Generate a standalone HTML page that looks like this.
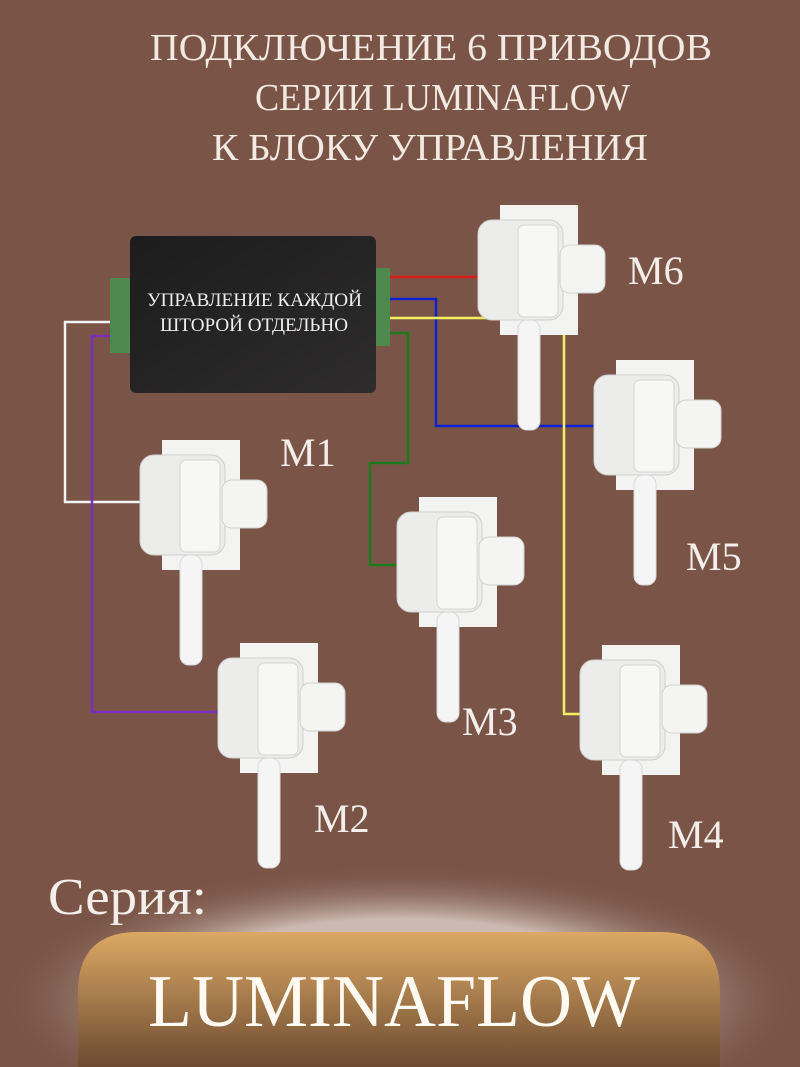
<!DOCTYPE html>
<html><head><meta charset="utf-8"><style>
html,body{margin:0;background:#7a5547;overflow:hidden;width:800px;height:1067px;}
</style></head><body>
<svg width="800" height="1067" viewBox="0 0 800 1067" xmlns="http://www.w3.org/2000/svg" style="display:block">
<defs>
<radialGradient id="glow" cx="50%" cy="50%" r="50%">
<stop offset="0.6" stop-color="#e8dcd6" stop-opacity="0.75"/>
<stop offset="1" stop-color="#7a5547" stop-opacity="0"/>
</radialGradient>
<linearGradient id="btn" x1="0" y1="0" x2="0" y2="1">
<stop offset="0" stop-color="#dca964"/>
<stop offset="1" stop-color="#6c4b31"/>
</linearGradient>
<linearGradient id="box" x1="0" y1="0" x2="1" y2="1">
<stop offset="0" stop-color="#1c1c1c"/>
<stop offset="1" stop-color="#2e2c2c"/>
</linearGradient>
<g id="motor">
<rect x="22" y="-15" width="78" height="130" fill="#f3f3f1"/>
<rect x="0" y="0" width="85" height="100" rx="14" fill="#ececea" stroke="#cfcfcf"/>
<rect x="40" y="5" width="40" height="92" rx="6" fill="#f7f7f5" stroke="#d4d4d4"/>
<rect x="82" y="25" width="45" height="48" rx="10" fill="#f4f4f2" stroke="#d0d0d0"/>
<rect x="40" y="100" width="22" height="110" rx="9" fill="#f5f5f5" stroke="#d8d8d8"/>
</g>
</defs>
<rect width="800" height="1067" fill="#7a5547"/>
<g font-family="Liberation Serif, serif" fill="#f1e9e2" font-size="38" lengthAdjust="spacingAndGlyphs">
<text x="150" y="60" textLength="562" lengthAdjust="spacingAndGlyphs">ПОДКЛЮЧЕНИЕ 6 ПРИВОДОВ</text>
<text x="255" y="110" textLength="375" lengthAdjust="spacingAndGlyphs">СЕРИИ LUMINAFLOW</text>
<text x="212" y="160" textLength="436" lengthAdjust="spacingAndGlyphs">К БЛОКУ УПРАВЛЕНИЯ</text>
</g>
<g fill="none" stroke-width="2.5">
<polyline points="112,322 65,322 65,502 142,502" stroke="#f4f4f4"/>
<polyline points="112,336 92,336 92,712 220,712" stroke="#7a2ec0"/>
<polyline points="386,277 482,277" stroke="#d81b1b"/>
<polyline points="386,299 436,299 436,426 596,426" stroke="#1020d0"/>
<polyline points="386,318 564,318 564,714 582,714" stroke="#f4ef60"/>
<polyline points="386,333 408,333 408,463 370,463 370,565 400,565" stroke="#1f7a1f"/>
</g>
<rect x="110" y="278" width="22" height="75" fill="#4e8a4e"/>
<rect x="370" y="268" width="20" height="78" fill="#4e8a4e"/>
<rect x="130" y="236" width="246" height="157" rx="6" fill="url(#box)"/>
<g font-family="Liberation Serif, serif" fill="#eeeeee" font-size="19">
<text x="147" y="306" textLength="215" lengthAdjust="spacingAndGlyphs">УПРАВЛЕНИЕ КАЖДОЙ</text>
<text x="160" y="331" textLength="188" lengthAdjust="spacingAndGlyphs">ШТОРОЙ ОТДЕЛЬНО</text>
</g>
<use href="#motor" x="478" y="220"/>
<use href="#motor" x="140" y="455"/>
<use href="#motor" x="594" y="375"/>
<use href="#motor" x="397" y="512"/>
<use href="#motor" x="218" y="658"/>
<use href="#motor" x="580" y="660"/>
<g font-family="Liberation Serif, serif" fill="#f4eeea" font-size="40">
<text x="628" y="284">M6</text>
<text x="280" y="466">M1</text>
<text x="686" y="570">M5</text>
<text x="462" y="735">M3</text>
<text x="314" y="832">M2</text>
<text x="668" y="848">M4</text>
</g>
<ellipse cx="400" cy="1000" rx="400" ry="135" fill="url(#glow)"/>
<path d="M78,1067 L78,992 Q78,932 138,932 L660,932 Q720,932 720,992 L720,1067 Z" fill="url(#btn)"/>
<text x="48" y="914" font-family="Liberation Serif, serif" font-size="52" fill="#f4eeea" textLength="159" lengthAdjust="spacingAndGlyphs">Серия:</text>
<text x="148" y="1026" font-family="Liberation Serif, serif" font-size="74" fill="#fffaf2" textLength="492" lengthAdjust="spacingAndGlyphs">LUMINAFLOW</text>
</svg>
</body></html>
